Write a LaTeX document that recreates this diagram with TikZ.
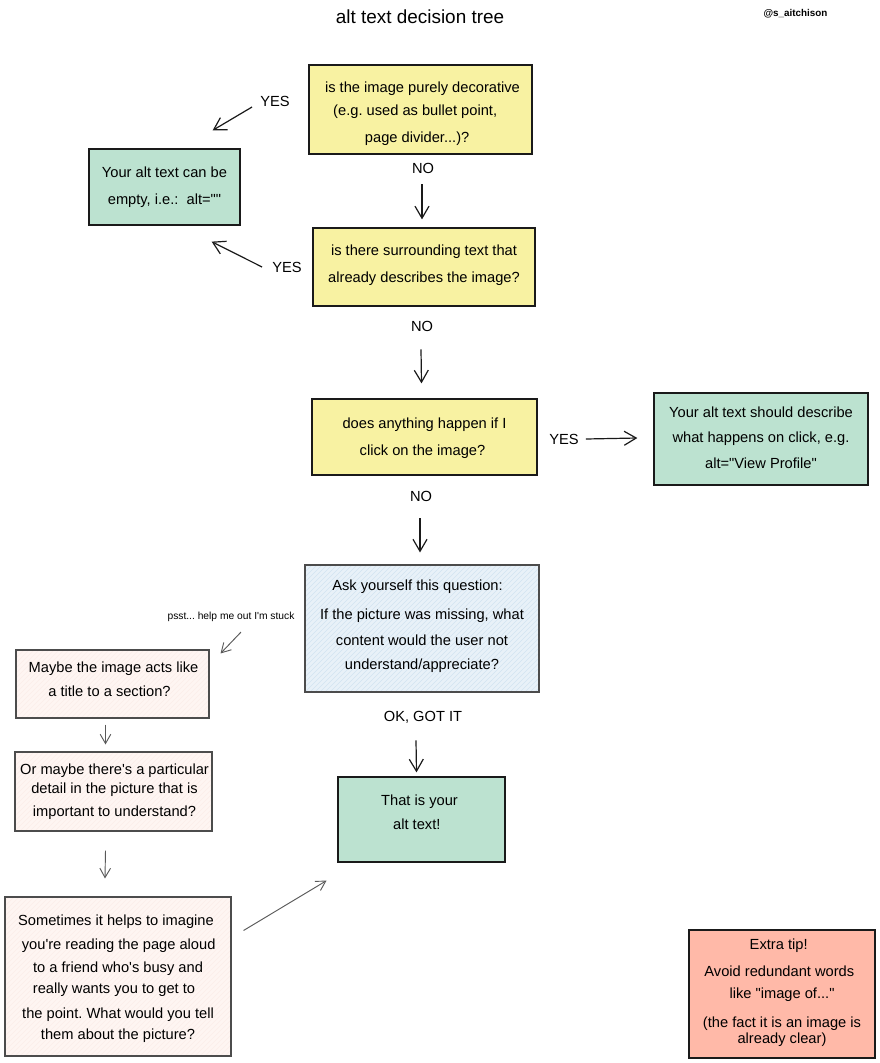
\documentclass[tikz,border=0pt]{standalone}
\usepackage{fontspec}
\newfontfamily\lib{Liberation Sans}
\usetikzlibrary{arrows.meta,calc}
\definecolor{ylw}{HTML}{F8F2A2}
\definecolor{grn}{HTML}{BCE2D0}
\definecolor{blu}{HTML}{E8F1F8}
\definecolor{bluh}{HTML}{D2E4F1}
\definecolor{pnk}{HTML}{FEF5F2}
\definecolor{pnkh}{HTML}{FCEDE9}
\definecolor{sal}{HTML}{FFB9A8}
\definecolor{ink}{HTML}{1A1A1A}
\tikzset{
  base/.style={draw=ink,line width=0.95pt,inner sep=0pt,font=\lib\frenchspacing\fontsize{11pt}{14pt}\selectfont,text=black},
  yellowbox/.style={base,fill=ylw},
  greenbox/.style={base,fill=grn},
  salmonbox/.style={base,fill=sal},
  hatch/.style n args={2}{base,draw=black!70,line width=0.8pt,fill=#1,path picture={
    \foreach \i in {-340,-335,...,340}
      \draw[#2,line width=0.4pt] ($(path picture bounding box.south west)+(\i,0)$) -- ($(path picture bounding box.south west)+(\i+340,-340)$);}},
  bluebox/.style={hatch={blu}{bluh}},
  pinkbox/.style={hatch={pnk}{pnkh}},
  lbl/.style={inner sep=0pt,font=\lib\frenchspacing\fontsize{11pt}{13pt}\selectfont,text=black},
  arr/.style={-{Straight Barb[length=9pt,width=10.5pt]},draw=ink,line width=0.9pt},
  thinarr/.style={-{Straight Barb[length=7pt,width=8pt]},draw=black!65,line width=0.7pt},
}
\newcommand{\tx}[2]{\raisebox{\dimexpr-#1\dimexpr0.75pt\relax-2.7pt\relax}[0pt][0pt]{\begin{tabular}{@{}c@{}}#2\end{tabular}}}
\begin{document}
\begin{tikzpicture}[x=0.75pt,y=-0.75pt]
\useasboundingbox[fill=white] (0,0) rectangle (880,1063);
\node[lbl,font=\lib\fontsize{14.2pt}{16pt}\selectfont] (title) at (420,17) {alt text decision tree};
\node[lbl,font=\lib\bfseries\fontsize{7.4pt}{8pt}\selectfont] (handle) at (795.5,14) {@s\_aitchison};

\node[yellowbox,minimum width=223*0.75pt,minimum height=89*0.75pt] (a) at (420.5,109.5)
 {\hspace*{3pt}\tx{4}{is the image purely decorative\\[3.25pt]\hspace*{-11pt}(e.g. used as bullet point,\\[6.25pt]\hspace*{-8pt}page divider...)?}};
\node[greenbox,minimum width=151*0.75pt,minimum height=76*0.75pt] (b) at (164.5,187)
 {\tx{0.5}{Your alt text can be\\[6.25pt]empty, i.e.:\ \ alt=""}};
\node[yellowbox,minimum width=222*0.75pt,minimum height=78*0.75pt] (c) at (424,267)
 {\tx{-1.5}{is there surrounding text that\\[6.25pt]already describes the image?}};
\node[yellowbox,minimum width=225*0.75pt,minimum height=76*0.75pt] (d) at (424.5,437)
 {\tx{1.5}{does anything happen if I\\[6.25pt]\hspace*{-3pt}click on the image?}};
\node[greenbox,minimum width=214*0.75pt,minimum height=92*0.75pt] (e) at (761,439)
 {\tx{0}{Your alt text should describe\\[4.75pt]what happens on click, e.g.\\[5.5pt]alt="View Profile"}};
\node[bluebox,minimum width=234*0.75pt,minimum height=127*0.75pt] (f) at (422,628.5)
 {\tx{-2}{\hspace*{-6.75pt}Ask yourself this question:\\[7.75pt]If the picture was missing, what\\[5.5pt]content would the user not\\[4pt]understand/appreciate?}};
\node[pinkbox,minimum width=193*0.75pt,minimum height=68*0.75pt] (g) at (112.5,684)
 {\hspace*{1.5pt}\tx{-3}{Maybe the image acts like\\[4pt]\hspace*{-6pt}a title to a section?}};
\node[pinkbox,minimum width=197*0.75pt,minimum height=79*0.75pt] (h) at (113.5,791.5)
 {\hspace*{1.5pt}\tx{0.5}{Or maybe there's a particular\\[0.25pt]detail in the picture that is\\[3.25pt]important to understand?}};
\node[pinkbox,minimum width=226*0.75pt,minimum height=159*0.75pt] (i) at (118,976.5)
 {\tx{2.5}{\hspace*{-3pt}Sometimes it helps to imagine\\[4pt]\hspace*{1pt}you're reading the page aloud\\[3.25pt]to a friend who's busy and\\[1.75pt]\hspace*{-6pt}really wants you to get to\\[5pt]the point. What would you tell\\[1.75pt]them about the picture?}};
\node[greenbox,minimum width=167*0.75pt,minimum height=85*0.75pt] (j) at (421.5,819.5)
 {\hspace*{3pt}\tx{-6}{\hspace*{-6pt}That is your\\[4pt]\hspace*{-10pt}alt text!}};
\node[salmonbox,minimum width=186*0.75pt,minimum height=128*0.75pt] (k) at (782,994)
 {\tx{-1.5}{\hspace*{-5pt}Extra tip!\\[6.25pt]\hspace*{-4pt}Avoid redundant words\\[2.5pt]like "image of..."\\[7.5pt](the fact it is an image is\\[-2pt]already clear)}};

\node[lbl] (y1) at (275,101) {YES};
\node[lbl] (n1) at (423,168) {NO};
\node[lbl] (y2) at (287,267) {YES};
\node[lbl] (n2) at (422,326) {NO};
\node[lbl] (y3) at (564,439) {YES};
\node[lbl] (n3) at (421,496) {NO};
\node[lbl,font=\lib\frenchspacing\fontsize{7.7pt}{9pt}\selectfont] (psst) at (231,617) {psst... help me out I'm stuck};
\node[lbl] (ok) at (423,717) {OK, GOT IT};

\draw[arr] ($(y1.west)+(-8,6)$) -- ($(b.north east)+(-28,-18)$);
\draw[arr] ($(n1.south)+(-1,11)$) -- ($(c.north)+(-2,-8)$);
\draw[arr] ($(y2.west)+(-10,0)$) -- ($(b.south east)+(-29,16)$);
\draw[arr] ($(n2.south)+(-1,18)$) -- ($(d.north)+(-3,-15)$);
\draw[arr] ($(y3.east)+(7,0)$) -- ($(e.west)+(-16,-1)$);
\draw[arr] ($(n3.south)+(-1,17)$) -- ($(f.north)+(-2,-12)$);
\draw[arr] ($(ok.south)+(-7,17)$) -- ($(j.north)+(-5,-4)$);
\draw[thinarr] ($(psst.south)+(10,10)$) -- ($(g.north east)+(11,4)$);
\draw[thinarr] ($(g.south)+(-7,6)$) -- ($(h.north)+(-8,-7)$);
\draw[thinarr] ($(h.south)+(-8,19)$) -- ($(i.north)+(-13,-18)$);
\draw[thinarr] ($(i.east)+(12,-46)$) -- ($(j.south)+(-95,18)$);
\end{tikzpicture}
\end{document}
